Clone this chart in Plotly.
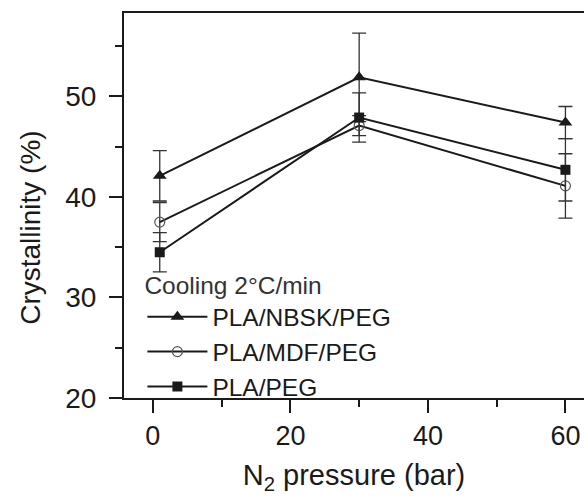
import plotly.graph_objects as go

# ---- data ----
pressure = [1, 30, 60]
series_names = ["PLA/NBSK/PEG", "PLA/MDF/PEG", "PLA/PEG"]
nbsk = [42.1, 51.9, 47.4]
nbsk_err = [2.5, 4.4, 1.6]
mdf = [37.5, 47.1, 41.1]
mdf_err = [1.95, 1.0, 3.2]
peg = [34.5, 47.9, 42.7]
peg_err = [1.95, 2.45, 3.1]
x_ticks = [0, 20, 40, 60]
y_ticks = [20, 30, 40, 50]

FONT = "Liberation Sans, Arial, Helvetica, sans-serif"
INK = "#1a1a1a"

fig = go.Figure()

styles = [
    dict(symbol="triangle-up", size=12, color=INK, line=dict(width=0)),
    dict(symbol="circle-open", size=10, color="#555", line=dict(width=1.2, color="#555")),
    dict(symbol="square", size=10, color=INK, line=dict(width=0)),
]
vals = [nbsk, mdf, peg]
errs = [nbsk_err, mdf_err, peg_err]

for name, v, e, mk in zip(series_names, vals, errs, styles):
    fig.add_trace(go.Scatter(
        x=pressure, y=v, name=name, mode="lines+markers",
        line=dict(color=INK, width=2),
        marker=mk,
        error_y=dict(type="data", array=e, visible=True, color="#333", thickness=1.3, width=7),
    ))

fig.update_layout(
    width=584, height=504,
    margin=dict(l=124, r=0, t=13, b=106),
    paper_bgcolor="white", plot_bgcolor="white",
    font=dict(family=FONT, color=INK, size=25),
    showlegend=True,
    legend=dict(
        x=0.04, y=0.352, xanchor="left", yanchor="top",
        bgcolor="rgba(0,0,0,0)", borderwidth=0,
        font=dict(size=24.5, family=FONT, color=INK),
        title=dict(text="Cooling 2°C/min", font=dict(size=24.5, family=FONT, color="#333")),
        itemwidth=60, tracegroupgap=0,
    ),
    xaxis=dict(
        range=[-4.2, 62.7], tickmode="array", tickvals=x_ticks,
        ticks="outside", ticklen=13, tickwidth=2, tickcolor=INK,
        showline=True, linewidth=2, linecolor=INK, mirror=True,
        showgrid=False, zeroline=False,
        tickfont=dict(size=27, family=FONT, color=INK),
        minor=dict(tickvals=[10, 30, 50], ticks="outside", ticklen=7, tickwidth=2, tickcolor=INK),
        title=dict(text="N<sub>2</sub> pressure (bar)", font=dict(size=29, family=FONT, color=INK), standoff=14),
    ),
    yaxis=dict(
        range=[20, 58.3], tickmode="array", tickvals=y_ticks,
        ticks="outside", ticklen=13, tickwidth=2, tickcolor=INK,
        showline=True, linewidth=2, linecolor=INK, mirror=False,
        showgrid=False, zeroline=False,
        tickfont=dict(size=28, family=FONT, color=INK),
        ticklabelposition="outside",
        ticklabelstandoff=7,
        minor=dict(tickvals=[25, 35, 45, 55], ticks="outside", ticklen=7, tickwidth=2, tickcolor=INK),
    ),
    annotations=[dict(
        text="Crystallinity (%)", textangle=-90, showarrow=False,
        xref="paper", yref="paper",
        x=(31 - 124) / 460, y=(398.3 - 228) / 385.3,
        xanchor="center", yanchor="middle",
        font=dict(size=28, family=FONT, color=INK),
    )],
)

fig.write_html("out.html")
